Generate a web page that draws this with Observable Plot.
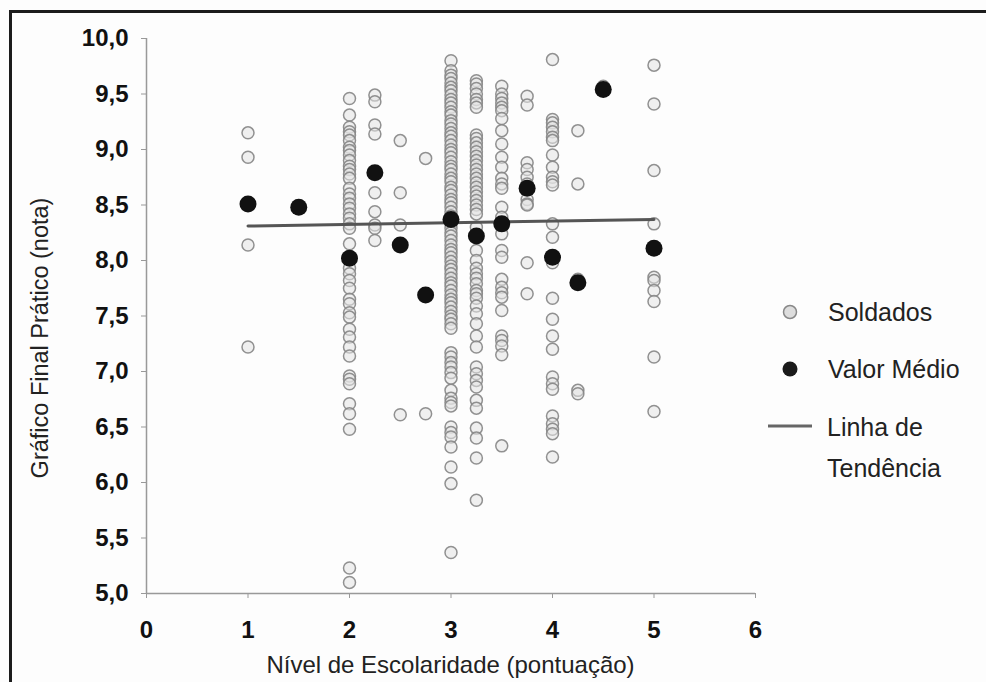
<!DOCTYPE html>
<html><head><meta charset="utf-8">
<script src="https://cdn.jsdelivr.net/npm/d3@7"></script>
<script src="https://cdn.jsdelivr.net/npm/@observablehq/plot@0.6"></script>
<style>
body{margin:0;overflow:hidden;background:#fdfdfd;font-family:"Liberation Sans",Arial,sans-serif}
#chart{position:absolute;left:0;top:0}
#frame{position:absolute;left:9px;top:10px;width:1100px;height:800px;border:3px solid #1c1c1c;pointer-events:none}
</style>
</head><body>
<div id="chart"></div><div id="frame"></div>
<script>
// Soldados: notas por nível de escolaridade
const s1 = [9.15, 8.93, 8.14, 7.22];
const s2 = [9.46, 9.31, 9.20, 9.16, 9.13, 9.08, 9.02, 8.99, 8.95, 8.90, 8.85, 8.82, 8.78, 8.74, 8.65, 8.60, 8.56, 8.51, 8.47, 8.42, 8.38, 8.33, 8.29, 8.15, 7.93, 7.88, 7.82, 7.75, 7.65, 7.61, 7.53, 7.49, 7.38, 7.31, 7.22, 7.14, 6.96, 6.93, 6.89, 6.71, 6.62, 6.48, 5.23, 5.10];
const s225 = [9.49, 9.43, 9.22, 9.14, 8.61, 8.44, 8.32, 8.29, 8.18];
const s25 = [9.08, 8.61, 8.32, 6.61];
const s275 = [8.92, 6.62];
const s3 = [9.80, 9.71, 9.67, 9.64, 9.60, 9.56, 9.53, 9.49, 9.45, 9.42, 9.38, 9.34, 9.31, 9.26, 9.23, 9.19, 9.15, 9.12, 9.08, 9.04, 9.00, 8.97, 8.93, 8.89, 8.85, 8.82, 8.78, 8.74, 8.71, 8.66, 8.63, 8.59, 8.55, 8.52, 8.48, 8.44, 8.40, 8.36, 8.33, 8.29, 8.25, 8.22, 8.18, 8.14, 8.10, 8.07, 8.03, 7.99, 7.95, 7.92, 7.88, 7.84, 7.80, 7.77, 7.73, 7.69, 7.65, 7.62, 7.58, 7.54, 7.50, 7.47, 7.43, 7.39, 7.17, 7.13, 7.08, 7.04, 6.99, 6.94, 6.83, 6.76, 6.72, 6.69, 6.50, 6.45, 6.41, 6.32, 6.14, 5.99, 5.37];
const s325 = [9.62, 9.59, 9.55, 9.50, 9.45, 9.42, 9.38, 9.13, 9.10, 9.06, 9.02, 8.98, 8.94, 8.90, 8.86, 8.82, 8.78, 8.74, 8.70, 8.66, 8.62, 8.58, 8.54, 8.50, 8.46, 8.42, 8.30, 8.09, 8.00, 7.93, 7.88, 7.84, 7.79, 7.73, 7.70, 7.66, 7.59, 7.52, 7.43, 7.32, 7.22, 7.04, 6.98, 6.92, 6.86, 6.74, 6.67, 6.49, 6.40, 6.22, 5.84];
const s35 = [9.57, 9.50, 9.46, 9.42, 9.38, 9.35, 9.28, 9.17, 9.05, 8.93, 8.84, 8.74, 8.69, 8.65, 8.48, 8.39, 8.24, 8.09, 8.03, 7.83, 7.76, 7.71, 7.67, 7.55, 7.32, 7.28, 7.23, 7.15, 6.33];
const s375 = [9.48, 9.40, 8.88, 8.82, 8.75, 8.69, 8.55, 8.51, 8.50, 7.98, 7.70];
const s4 = [9.81, 9.27, 9.24, 9.20, 9.16, 9.11, 9.08, 8.95, 8.84, 8.75, 8.71, 8.68, 8.33, 8.21, 7.98, 7.66, 7.47, 7.32, 7.20, 6.95, 6.89, 6.84, 6.60, 6.53, 6.48, 6.44, 6.23];
const s425 = [9.17, 8.69, 7.83, 6.83, 6.80];
const s45 = [9.57];
const s5 = [9.76, 9.41, 8.81, 8.33, 7.85, 7.82, 7.73, 7.63, 7.13, 6.64];

const niveis = [1, 2, 2.25, 2.5, 2.75, 3, 3.25, 3.5, 3.75, 4, 4.25, 4.5, 5];
const colunas = [s1, s2, s225, s25, s275, s3, s325, s35, s375, s4, s425, s45, s5];

// Valor médio
const mediaNivel = [1, 1.5, 2, 2.25, 2.5, 2.75, 3, 3.25, 3.5, 3.75, 4, 4.25, 4.5, 5];
const mediaNota  = [8.51, 8.48, 8.02, 8.79, 8.14, 7.69, 8.37, 8.22, 8.33, 8.65, 8.03, 7.80, 9.54, 8.11];

// Linha de tendência
const tendNivel = [1, 5];
const tendNota = [8.31, 8.37];

const xTicks = [0, 1, 2, 3, 4, 5, 6];
const yTicks = [5, 5.5, 6, 6.5, 7, 7.5, 8, 8.5, 9, 9.5, 10];
const xTitle = "Nível de Escolaridade (pontuação)";
const yTitle = "Gráfico Final Prático (nota)";
const legendLabels = ["Soldados", "Valor Médio", ["Linha de", "Tendência"]];

const soldados = colunas.flatMap((c, i) => c.map(v => ({nivel: niveis[i], nota: v})));
const medias = mediaNivel.map((n, i) => ({nivel: n, nota: mediaNota[i]}));
const tend = tendNivel.map((n, i) => ({nivel: n, nota: tendNota[i]}));

const fmt = d => d3.format(".1f")(d).replace(".", ",");

const plot = Plot.plot({
  width: 986, height: 682,
  marginLeft: 146, marginRight: 231, marginTop: 38, marginBottom: 89,
  style: {background: "transparent", fontFamily: "'Liberation Sans', Arial, sans-serif", color: "#111"},
  x: {domain: [0, 6], label: null},
  y: {domain: [5, 10], label: null},
  marks: [
    Plot.ruleX([0], {stroke: "#999", strokeWidth: 1.5}),
    Plot.ruleY([5], {stroke: "#999", strokeWidth: 1.5}),
    Plot.axisX({ticks: xTicks, tickFormat: d => String(d), tickSize: 5, tickPadding: 22, fontSize: 24, fontWeight: "bold", stroke: "#999", fill: "#111", label: null}),
    Plot.axisY({ticks: yTicks, tickFormat: fmt, tickSize: 5, tickPadding: 13, fontSize: 24, fontWeight: "bold", stroke: "#999", fill: "#111", label: null}),
    Plot.dot(soldados, {x: "nivel", y: "nota", r: 6, fill: "#e4e4e4", fillOpacity: 0.55, stroke: "#858585", strokeWidth: 1.5, strokeOpacity: 0.9}),
    Plot.line(tend, {x: "nivel", y: "nota", stroke: "#555", strokeWidth: 3}),
    Plot.dot(medias, {x: "nivel", y: "nota", r: 8.5, fill: "#111", stroke: "none"})
  ]
});

const svg = d3.select(plot);
const xs = plot.scale("x");
// axis titles
svg.append("text").attr("x", xs.apply(3)).attr("y", 673).attr("text-anchor", "middle")
  .attr("font-size", 24).attr("fill", "#222").text(xTitle);
svg.append("text").attr("transform", "translate(48,338) rotate(-90)").attr("text-anchor", "middle")
  .attr("font-size", 23.5).attr("fill", "#222").text(yTitle);

// legend
const lg = svg.append("g").attr("font-size", 25).attr("fill", "#222").attr("text-anchor", "start");
lg.append("circle").attr("cx", 790).attr("cy", 312).attr("r", 6.5).attr("fill", "#ddd").attr("stroke", "#888").attr("stroke-width", 1.5);
lg.append("text").attr("x", 828).attr("y", 321).text(legendLabels[0]);
lg.append("circle").attr("cx", 790).attr("cy", 369).attr("r", 7.5).attr("fill", "#1a1a1a");
lg.append("text").attr("x", 828).attr("y", 378).text(legendLabels[1]);
lg.append("line").attr("x1", 768).attr("x2", 812).attr("y1", 426).attr("y2", 426).attr("stroke", "#666").attr("stroke-width", 3);
lg.append("text").attr("x", 827).attr("y", 436).text(legendLabels[2][0]);
lg.append("text").attr("x", 827).attr("y", 477).text(legendLabels[2][1]);

document.getElementById("chart").appendChild(plot);
</script>
</body></html>
